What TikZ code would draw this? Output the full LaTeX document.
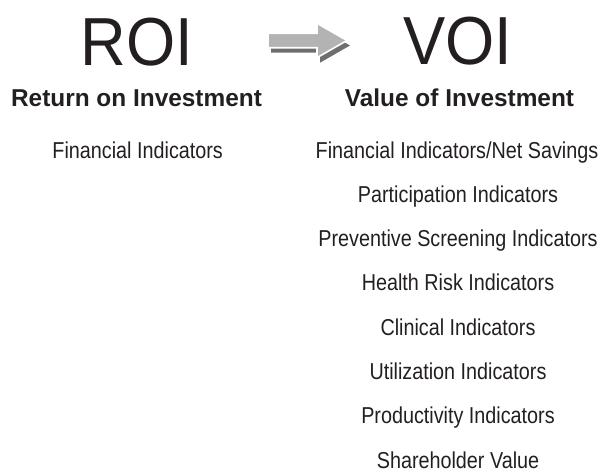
\documentclass[tikz,border=0pt]{standalone}
\usepackage{fontspec}
\setmainfont{Liberation Sans}
\newfontfamily\narrowfont[FakeStretch=0.86]{Liberation Sans}
\newfontfamily\bigfont[FakeStretch=0.93]{Liberation Sans}
\definecolor{ink}{HTML}{231F20}
\definecolor{arrowlight}{HTML}{B3B3B3}
\definecolor{arrowdark}{HTML}{6E6E6E}
\tikzset{
  bigtitle/.style={anchor=base, inner sep=0pt, text=ink, font=\bigfont\fontsize{68}{68}\selectfont},
  heading/.style={anchor=base, inner sep=0pt, text=ink, font=\bfseries\fontsize{24.4}{24.4}\selectfont},
  item/.style={anchor=base, inner sep=0pt, text=ink, font=\narrowfont\fontsize{23}{23}\selectfont},
}
\begin{document}
\begin{tikzpicture}[x=1pt,y=-1pt]
\useasboundingbox (0,0) rectangle (604,472);
% titles
\node[bigtitle] (roi) at (137,65) {ROI};
\node[bigtitle] (voi) at (458,64) {VOI};
\node[heading] (rh) at (136.5,106.7) {Return on Investment};
\node[heading] (vh) at (459.5,106.7) {Value of Investment};
% left column
\node[item] (l1) at (137.7,158) {Financial Indicators};
% right column
\node[item] (r1) at (457,158) {Financial Indicators/Net Savings};
\node[item] (r2) at (458,202.3) {Participation Indicators};
\node[item] (r3) at (458,246.6) {Preventive Screening Indicators};
\node[item] (r4) at (458,290.9) {Health Risk Indicators};
\node[item] (r5) at (458,335.2) {Clinical Indicators};
\node[item] (r6) at (458,379.5) {Utilization Indicators};
\node[item] (r7) at (458,423.8) {Productivity Indicators};
\node[item] (r8) at (458,468.1) {Shareholder Value};
% block arrow with shadow
\fill[arrowdark, shift={(3,5)}] (268,33.3) -- (317,33.3) -- (317,23.3) -- (347,40.5) -- (317,57.7) -- (317,47.7) -- (268,47.7) -- cycle;
\filldraw[fill=arrowlight, draw=white, line width=1.6pt, line join=miter] (268,33.3) -- (317,33.3) -- (317,23.3) -- (347,40.5) -- (317,57.7) -- (317,47.7) -- (268,47.7) -- cycle;
\end{tikzpicture}
\end{document}
